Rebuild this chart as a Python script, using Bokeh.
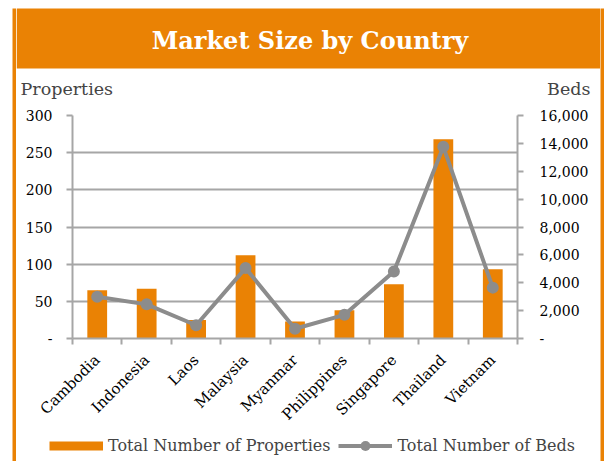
import numpy as np
from math import pi
from bokeh.plotting import figure
from bokeh.layouts import row, column
from bokeh.models import (BoxAnnotation, Label, Legend, LegendItem, LinearAxis,
                          Range1d, FixedTicker, NumeralTickFormatter)
from bokeh.embed import file_html
from bokeh.resources import INLINE

countries = ["Cambodia", "Indonesia", "Laos", "Malaysia", "Myanmar",
             "Philippines", "Singapore", "Thailand", "Vietnam"]
properties = [65, 67, 25, 112, 23, 38, 73, 268, 93]
beds = [3000, 2450, 950, 5050, 700, 1700, 4800, 13750, 3650]
prop_ticks = [0, 50, 100, 150, 200, 250, 300]
bed_ticks = [0, 2000, 4000, 6000, 8000, 10000, 12000, 14000, 16000]

ORANGE = "#EA8204"
GRID = "#A6A6A6"
LINE = "#8C8C8C"
FONT = "DejaVu Serif"
W = 584
H_HDR, H_MAIN, H_FTR = 100, 333, 28
H_ALL = H_HDR + H_MAIN + H_FTR


def bare(width, height, **kw):
    f = figure(width=width, height=height, output_backend="svg", toolbar_location=None,
               x_axis_type=None, y_axis_type=None, min_border=0, **kw)
    f.outline_line_color = None
    f.frame_align = False
    return f


# side strips of the orange frame
left_strip = bare(16, H_ALL, background_fill_color=ORANGE, border_fill_color="white")
left_strip.min_border_left = 12
left_strip.min_border_top = 8
right_strip = bare(4, H_ALL, background_fill_color=ORANGE, border_fill_color="white")
right_strip.min_border_top = 8

# header with title and axis captions
hdr = bare(W, H_HDR, x_range=Range1d(0, W), y_range=Range1d(H_HDR, 0),
           background_fill_color="white", border_fill_color="white")
hdr.add_layout(BoxAnnotation(left=0, right=W, top=8, bottom=68, fill_color=ORANGE,
                             fill_alpha=1, line_color=None))
hdr.add_layout(Label(x=293.5, y=40, text="Market Size by Country", text_align="center",
                     text_baseline="middle", text_color="white", text_font=FONT,
                     text_font_style="bold", text_font_size="24px"))
hdr.add_layout(Label(x=4, y=88, text="Properties", text_align="left",
                     text_baseline="middle", text_font=FONT, text_font_size="17.5px"))
hdr.add_layout(Label(x=574, y=88, text="Beds", text_align="right",
                     text_baseline="middle", text_font=FONT, text_font_size="17.5px"))

# main chart
xs = np.arange(len(countries)) + 0.5
p = figure(width=W, height=H_MAIN, output_backend="svg", toolbar_location=None,
           x_range=Range1d(0, len(countries)), y_range=Range1d(0, 300),
           min_border_left=56, min_border_right=83, min_border_top=15,
           min_border_bottom=95)
p.frame_align = False
p.outline_line_color = None
p.xgrid.visible = False
p.ygrid.grid_line_color = GRID
p.ygrid.grid_line_width = 2
p.extra_y_ranges = {"beds": Range1d(0, 16000)}

ya = p.yaxis[0]
ya.ticker = FixedTicker(ticks=prop_ticks)
ya.major_label_overrides = {0: "-"}
xa = p.xaxis[0]
xa.ticker = FixedTicker(ticks=list(xs), minor_ticks=list(range(len(countries) + 1)))
xa.major_label_overrides = {float(x): c for x, c in zip(xs, countries)}
xa.major_label_orientation = pi / 4
xa.major_tick_in = 0
xa.major_tick_out = 0
xa.minor_tick_in = 0
xa.minor_tick_out = 6
xa.minor_tick_line_color = GRID
xa.minor_tick_line_width = 2

ra = LinearAxis(y_range_name="beds", ticker=FixedTicker(ticks=bed_ticks),
                formatter=NumeralTickFormatter(format="0,0"))
ra.major_label_overrides = {0: "-"}
p.add_layout(ra, "right")

for ax in (ya, ra):
    ax.major_tick_in = 0
    ax.major_tick_out = 6
    ax.minor_tick_line_color = None
    ax.major_label_text_font_size = "14px"
for ax in (ya, ra, xa):
    ax.axis_line_color = GRID
    ax.axis_line_width = 2
    ax.major_tick_line_color = GRID
    ax.major_tick_line_width = 2
    ax.major_label_text_font = FONT
    ax.major_label_text_color = "#000000"
xa.major_label_text_font_size = "15px"
ya.major_label_standoff = 14
ra.major_label_standoff = 16
xa.major_label_standoff = 13

p.vbar(x=xs, top=properties, width=0.4, fill_color=ORANGE, line_color=None)
p.line(xs, beds, y_range_name="beds", line_color=LINE, line_width=4)
p.scatter(xs, beds, y_range_name="beds", size=12, fill_color=LINE, line_color=None)

# footer legend (key glyphs only, no visible points)
ftr = bare(W, H_FTR, x_range=Range1d(0, 1), y_range=Range1d(0, 1),
           background_fill_color="white", border_fill_color="white")
k_bar = ftr.line(x=[np.nan], y=[np.nan], line_color=ORANGE, line_width=9)
k_line = ftr.line(x=[np.nan], y=[np.nan], line_color=LINE, line_width=4)
k_dot = ftr.scatter(x=[np.nan], y=[np.nan], size=12, fill_color=LINE, line_color=None)
leg = Legend(items=[LegendItem(label="Total Number of Properties", renderers=[k_bar]),
                    LegendItem(label="Total Number of Beds", renderers=[k_line, k_dot])],
             location=(33, 3), orientation="horizontal",
             glyph_width=54, glyph_height=25, label_height=25, label_standoff=5,
             spacing=8, padding=0, margin=0, border_line_color=None,
             background_fill_alpha=0, label_text_font=FONT,
             label_text_font_size="16px")
ftr.add_layout(leg)

layout = row(left_strip, column(hdr, p, ftr), right_strip)
open("out.html", "w").write(file_html(layout, INLINE))
